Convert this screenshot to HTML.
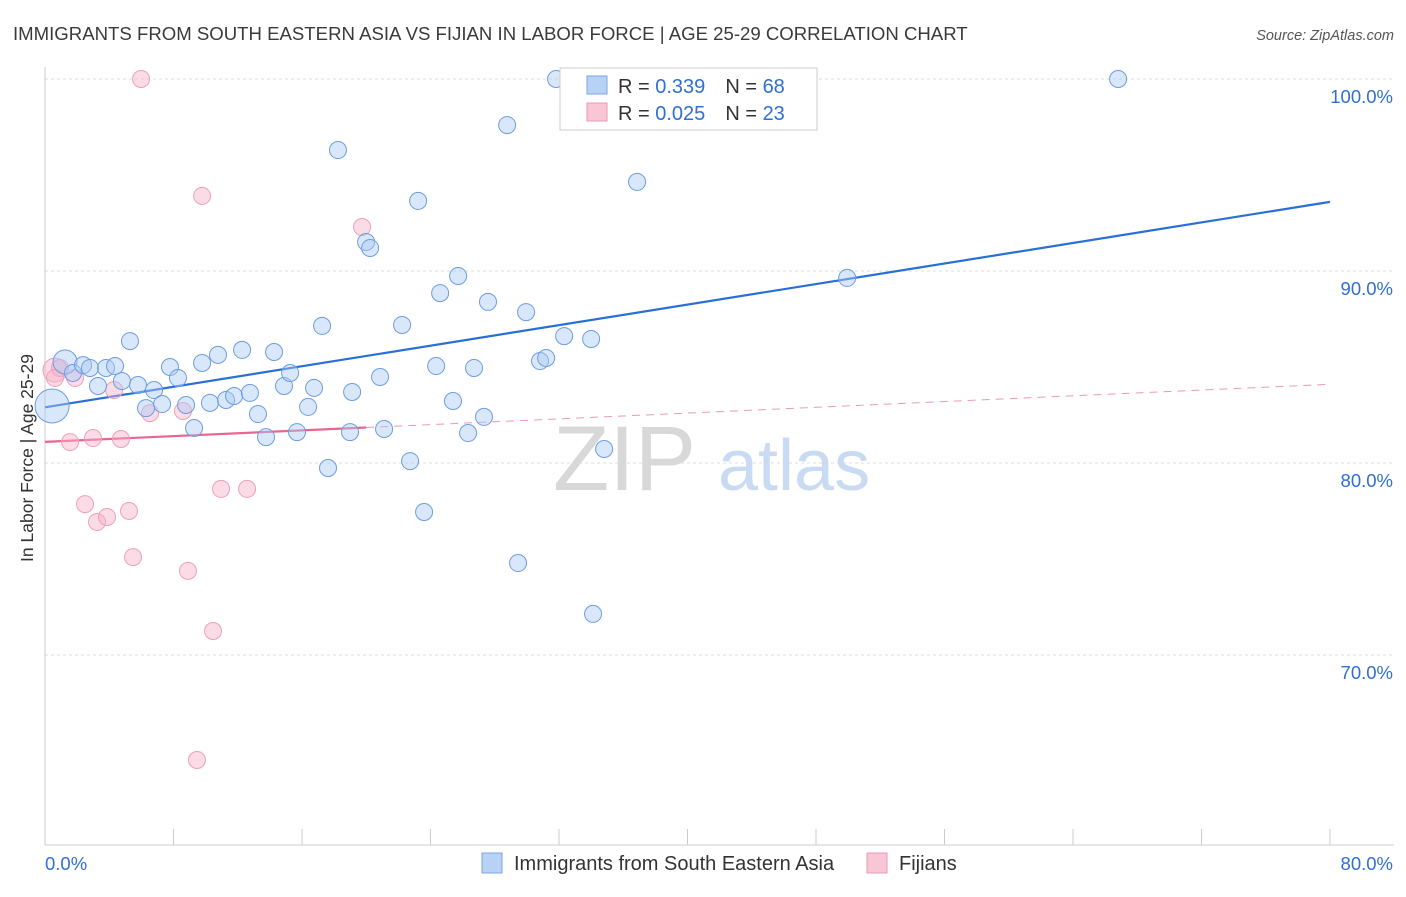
<!DOCTYPE html>
<html><head><meta charset="utf-8"><style>
body{margin:0;background:#fff;font-family:"Liberation Sans",sans-serif;}
svg text{font-family:"Liberation Sans",sans-serif;}
</style></head><body>
<svg id="chart" width="1406" height="892" xmlns="http://www.w3.org/2000/svg">
<text x="13" y="40" font-size="18.6" fill="#3a3a3a">IMMIGRANTS FROM SOUTH EASTERN ASIA VS FIJIAN IN LABOR FORCE | AGE 25-29 CORRELATION CHART</text>
<text x="1394" y="40" font-size="14.5" fill="#555" font-style="italic" text-anchor="end">Source: ZipAtlas.com</text>
<g id="grid"></g>
<g>
<text x="553" y="490" font-size="92" fill="#d8d8d8" font-family="Liberation Serif,serif">ZIP</text>
<text x="718" y="490" font-size="72" fill="#c9dbf3">atlas</text>
</g>
<text transform="translate(33,458) rotate(-90)" font-size="17.5" fill="#333" text-anchor="middle">In Labor Force | Age 25-29</text>
<g id="lines"></g>
<g id="points"></g>
<g>
<rect x="560" y="68" width="257" height="62" fill="#fff" stroke="#ccc"/>
<rect x="587" y="76" width="20" height="18" fill="#b7d2f5" stroke="#7ea7e0"/>
<rect x="587" y="103" width="20" height="18" fill="#f9c6d6" stroke="#eb9ab4"/>
<text x="618" y="93" font-size="20" fill="#333">R = <tspan fill="#2f6fd6">0.339</tspan><tspan dx="20">N = </tspan><tspan fill="#2f6fd6">68</tspan></text>
<text x="618" y="120" font-size="20" fill="#333">R = <tspan fill="#2f6fd6">0.025</tspan><tspan dx="20">N = </tspan><tspan fill="#2f6fd6">23</tspan></text>
</g>
<g>
<rect x="482" y="853" width="20" height="20" fill="#b7d2f5" stroke="#7ea7e0"/>
<text x="514" y="870" font-size="20" fill="#333">Immigrants from South Eastern Asia</text>
<rect x="867" y="853" width="20" height="20" fill="#f9c6d6" stroke="#eb9ab4"/>
<text x="899" y="870" font-size="20" fill="#333">Fijians</text>
</g>
</svg>
<script>
const yTicks=[100,90,80,70];
const xTickLabels=["0.0%","80.0%"];
const blueX=[0.44,1.25,1.74,2.37,2.80,3.30,3.80,4.36,4.79,5.29,5.79,6.29,6.79,7.29,7.78,8.28,8.78,9.28,9.78,10.27,10.77,11.27,11.77,12.27,12.76,13.26,13.76,14.26,14.88,15.26,15.69,16.38,16.75,17.25,17.62,18.24,18.99,19.12,19.99,20.24,20.86,21.11,22.23,22.73,23.23,23.60,24.35,24.60,25.40,25.72,26.34,26.71,27.33,27.58,28.77,29.45,29.95,30.82,31.20,31.82,32.32,34.00,34.12,34.81,36.86,49.94,66.81];
const blueY=[82.97,85.26,84.69,85.10,84.95,84.01,84.95,85.05,84.27,86.35,84.06,82.86,83.80,83.07,85.0,84.43,83.02,81.82,85.21,83.13,85.63,83.28,83.49,85.89,83.65,82.55,81.35,85.78,84.01,84.69,81.61,82.92,83.91,87.14,79.74,96.30,81.61,83.70,91.51,91.20,84.48,81.77,87.19,80.10,93.65,77.45,85.05,88.85,83.23,89.74,81.56,84.95,82.40,88.39,97.60,74.79,87.86,85.31,85.47,100,86.61,86.46,72.14,80.73,94.64,89.64,100];
const pinkX=[5.98,9.78,19.74,0.62,0.93,1.87,1.56,2.99,4.73,4.30,6.54,8.59,2.49,3.24,3.86,5.23,5.48,10.96,12.58,8.90,10.46,9.46,0.62];
const pinkY=[100,93.91,92.29,84.84,84.95,84.43,81.09,81.30,81.25,83.80,82.60,82.71,77.86,76.93,77.19,77.50,75.10,78.65,78.65,74.38,71.25,64.53,84.43];
const blueTrend=[82.9,93.6];
const pinkTrend=[81.1,84.1];
const pinkSolidEnd=20;
const NS="http://www.w3.org/2000/svg";
const X=v=>45+v*(1285/80), Y=v=>79+(100-v)*19.2;
function mk(t,a,p){const e=document.createElementNS(NS,t);for(const k in a)e.setAttribute(k,a[k]);p.appendChild(e);return e;}
const grid=document.getElementById('grid');
yTicks.forEach(t=>{
 const l=mk('line',{x1:45,x2:1394,y1:Y(t),y2:Y(t),stroke:'#ddd','stroke-dasharray':'3,3'},grid);
 
 
 const tx=mk('text',{x:1393,y:Y(t)+24,'font-size':18.5,fill:'#2f6fd6','text-anchor':'end'},grid);tx.textContent=t.toFixed(1)+'%';
 
 
});
mk('line',{x1:45,x2:45,y1:67,y2:845,stroke:'#ccc'},grid);
mk('line',{x1:45,x2:1394,y1:845,y2:845,stroke:'#ccc'},grid);
for(let i=1;i<=10;i++){mk('line',{x1:X(i*8),x2:X(i*8),y1:829,y2:845,stroke:'#ccc'},grid);}
const xl=mk('text',{x:45,y:870,'font-size':18.5,fill:'#2f6fd6'},grid);xl.textContent=xTickLabels[0];


const xr=mk('text',{x:1393,y:870,'font-size':18.5,fill:'#2f6fd6','text-anchor':'end'},grid);xr.textContent=xTickLabels[1];


const pts=document.getElementById('points');
function r(i,isBlue){if(isBlue&&i===0)return 17;if(isBlue&&i===1)return 12;if(!isBlue&&i===3)return 12;return 8.5;}
pinkX.forEach((v,i)=>{const c=mk('circle',{cx:X(v),cy:Y(pinkY[i]),r:r(i,false),fill:'rgba(246,176,200,0.45)',stroke:'#eda0ba','stroke-width':1},pts);
 
 });
blueX.forEach((v,i)=>{const c=mk('circle',{cx:X(v),cy:Y(blueY[i]),r:r(i,true),fill:'rgba(170,202,243,0.45)',stroke:'#6d9de0','stroke-width':1},pts);
 
 });
const ln=document.getElementById('lines');
const bl=mk('line',{x1:X(0),y1:Y(blueTrend[0]),x2:X(80),y2:Y(blueTrend[1]),stroke:'#2a6fd6','stroke-width':2.2},ln);


const pm=pinkTrend[0]+(pinkTrend[1]-pinkTrend[0])*pinkSolidEnd/80;
const ps=mk('line',{x1:X(0),y1:Y(pinkTrend[0]),x2:X(pinkSolidEnd),y2:Y(pm),stroke:'#e8668f','stroke-width':2.2},ln);


const pd=mk('line',{x1:X(pinkSolidEnd),y1:Y(pm),x2:X(80),y2:Y(pinkTrend[1]),stroke:'#eb9ab4','stroke-width':1,'stroke-dasharray':'8,6'},ln);


</script>
</body></html>
